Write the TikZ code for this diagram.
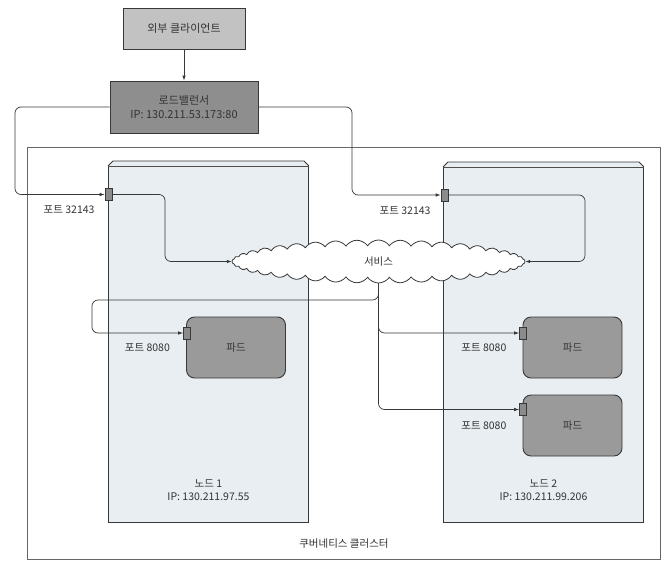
\documentclass[tikz,border=0pt]{standalone}
\usepackage{fontspec}
\setmainfont{Noto Sans CJK KR}
\usetikzlibrary{arrows.meta,positioning,shapes.symbols}

\definecolor{clientgray}{HTML}{C2C2C2}
\definecolor{lbgray}{HTML}{8E8E8E}
\definecolor{podgray}{HTML}{9A9A9A}
\definecolor{nodefill}{HTML}{E8EEF2}
\definecolor{linegray}{HTML}{383838}

\begin{document}
\begin{tikzpicture}[
    x=1pt, y=-1pt,
    font=\fontsize{10.5}{13}\selectfont,
    box/.style={draw=linegray, line width=0.9pt, align=center, text=black!80},
    server/.style={draw=linegray, line width=0.9pt, fill=nodefill, anchor=north west},
    pod/.style={box, fill=podgray, rounded corners=8pt, minimum width=99pt, minimum height=61pt},
    port/.style={draw=linegray, line width=0.6pt, fill=podgray!90!black, minimum width=7pt, minimum height=12pt, inner sep=0pt},
    lbl/.style={text=black!80, inner sep=2pt, align=center},
    arrow/.style={-{Latex[length=5pt,width=3.5pt]}, line width=0.7pt, draw=linegray, rounded corners=6pt}
]
\useasboundingbox (0,0) rectangle (668,567);

% cluster and the two nodes
\node[draw=black!60, line width=0.9pt, fill=white, anchor=north west, minimum width=633pt, minimum height=412pt] (cluster) at (27,147) {};
\node[server, minimum width=200pt, minimum height=356pt] (n1) at (108,166) {};
\node[server, minimum width=200pt, minimum height=355pt] (n2) at (443,167) {};
\draw[line width=0.9pt, draw=linegray, fill=nodefill] (n1.north west) -- ++(5,-5) -- ([xshift=-5pt,yshift=5pt]n1.north east) -- (n1.north east);
\draw[line width=0.9pt, draw=linegray, fill=nodefill] (n2.north west) -- ++(5,-5) -- ([xshift=-5pt,yshift=5pt]n2.north east) -- (n2.north east);

\node[lbl, above=9pt of cluster.south] (clusterlbl) {쿠버네티스 클러스터};
\node[lbl, above=20pt of n1.south] (n1lbl) {노드 1\\IP: 130.211.97.55};
\node[lbl, above=20pt of n2.south] (n2lbl) {노드 2\\IP: 130.211.99.206};

% outside
\node[box, fill=clientgray, minimum width=122pt, minimum height=41pt, font=\fontsize{11}{13.5}\selectfont] (client) at (184,28.5) {외부 클라이언트};
\node[box, fill=lbgray, minimum width=148pt, minimum height=52pt, font=\fontsize{11}{13.5}\selectfont] (lb) at (184,107) {로드밸런서\\IP: 130.211.53.173:80};

% service
\node[cloud, draw=linegray, line width=0.8pt, fill=white, cloud puffs=42, cloud puff arc=110, cloud ignores aspect, minimum width=293pt, minimum height=43pt, inner sep=0pt, text=black!80] (svc) at (378.5,261.5) {서비스};

% pods
\node[pod] (pod1) at (236,347.5) {파드};
\node[pod] (pod2) at (572.5,347.5) {파드};
\node[pod] (pod3) at (572.5,425.5) {파드};

% ports
\node[port] (p1) at (108.5,194.5) {};
\node[port] (p2) at (444.5,195) {};
\node[port] (pp1) at (187,333) {};
\node[port] (pp2) at (523,333) {};
\node[port] (pp3) at (523,409.5) {};

% connectors
\draw[arrow] (client) -- (lb);
\draw[arrow] (lb.west) -| (15,150) |- (p1.west);
\draw[arrow] (lb.east) -| (352,150) |- (p2.west);
\draw[arrow] (p1.east) -| (165,230) |- (svc.west);
\draw[arrow] (p2.east) -| (585,230) |- (svc.east);
\draw[arrow] (svc.south) |- (92,300) |- (pp1.west);
\draw[arrow] (svc.south) |- (pp2.west);
\draw[arrow] (svc.south) |- (pp3.west);

\node[lbl, below left=3pt and 8pt of p1] (p1lbl) {포트 32143};
\node[lbl, below left=3pt and 8pt of p2] (p2lbl) {포트 32143};
\node[lbl, left=14pt of pod1] (pp1lbl) {포트 8080};
\node[lbl, left=14pt of pod2] (pp2lbl) {포트 8080};
\node[lbl, left=14pt of pod3] (pp3lbl) {포트 8080};
\end{tikzpicture}
\end{document}
